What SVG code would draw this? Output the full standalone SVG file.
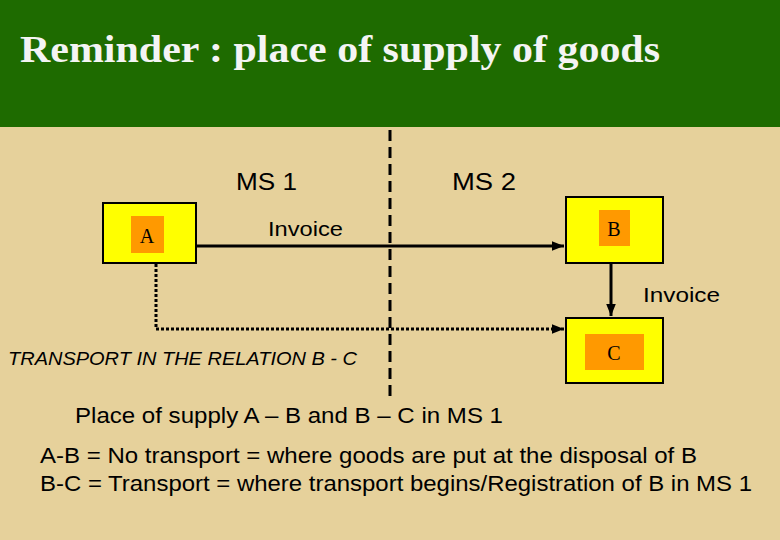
<svg xmlns="http://www.w3.org/2000/svg" width="780" height="540" viewBox="0 0 780 540">
<style>
.s{font-family:"Liberation Sans",Arial,sans-serif;fill:#000}
.r{font-family:"Liberation Serif","Times New Roman",serif;fill:#000}
.box{fill:#ffff00;stroke:#000;stroke-width:2}
.in{fill:#ff9900}
</style>
<defs>
<marker id="ah" viewBox="0 0 10 10" refX="10" refY="5" markerWidth="4" markerHeight="4" orient="auto" markerUnits="strokeWidth"><path d="M0,1 L10,5 L0,9 z" fill="#000"/></marker>
</defs>
<rect width="780" height="540" fill="#e6d19b"/>
<rect width="780" height="127" fill="#1e6b00"/>
<text x="20" y="62" class="r" font-size="38" font-weight="bold" textLength="640" lengthAdjust="spacingAndGlyphs" style="fill:#f4f4f4">Reminder : place of supply of goods</text>
<g id="connectors">
<line x1="390" y1="130" x2="390" y2="398" stroke="#000" stroke-width="3" stroke-dasharray="11,6"/>
<line x1="196" y1="246" x2="564" y2="246" stroke="#000" stroke-width="3" marker-end="url(#ah)"/>
<line x1="611" y1="264" x2="611" y2="316" stroke="#000" stroke-width="3" marker-end="url(#ah)"/>
<polyline points="156,264 156,329 564,329" fill="none" stroke="#000" stroke-width="3" stroke-dasharray="3,2" marker-end="url(#ah)"/>
</g>
<g id="A"><rect class="box" x="103" y="203" width="93" height="60"/><rect class="in" x="131" y="216" width="33" height="37"/><text x="147" y="243" class="r" font-size="20" text-anchor="middle">A</text></g>
<g id="B"><rect class="box" x="566" y="197" width="97" height="66"/><rect class="in" x="599" y="210" width="31" height="36"/><text x="614" y="236" class="r" font-size="20" text-anchor="middle">B</text></g>
<g id="C"><rect class="box" x="566" y="318" width="97" height="65"/><rect class="in" x="585" y="334" width="59" height="36"/><text x="614" y="360" class="r" font-size="20" text-anchor="middle">C</text></g>
<g id="labels">
<text x="236" y="190" class="s" font-size="24" textLength="61" lengthAdjust="spacingAndGlyphs">MS 1</text>
<text x="452" y="190" class="s" font-size="24" textLength="64" lengthAdjust="spacingAndGlyphs">MS 2</text>
<text x="268" y="236" class="s" font-size="21" textLength="75" lengthAdjust="spacingAndGlyphs">Invoice</text>
<text x="643" y="302" class="s" font-size="21" textLength="77" lengthAdjust="spacingAndGlyphs">Invoice</text>
<text x="8" y="365" class="s" font-size="19" font-style="italic" textLength="349" lengthAdjust="spacingAndGlyphs">TRANSPORT IN THE RELATION B - C</text>
<text x="75" y="423" class="s" font-size="22" textLength="428" lengthAdjust="spacingAndGlyphs">Place of supply A – B and B – C in MS 1</text>
<text x="40" y="463" class="s" font-size="22" textLength="657" lengthAdjust="spacingAndGlyphs">A-B = No transport = where goods are put at the disposal of B</text>
<text x="40" y="491" class="s" font-size="22" textLength="712" lengthAdjust="spacingAndGlyphs">B-C = Transport = where transport begins/Registration of B in MS 1</text>
</g>
</svg>
